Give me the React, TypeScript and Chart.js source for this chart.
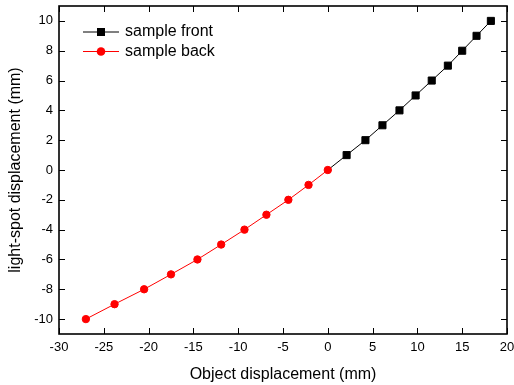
import React, { useEffect, useRef } from 'react';
import { Chart, registerables } from 'chart.js';

Chart.register(...registerables);

// ---- data ----
const seriesNames = ['sample front', 'sample back'];
const frontX = [0, 2.1, 4.2, 6.1, 8.0, 9.8, 11.6, 13.4, 15.0, 16.6, 18.2];
const frontY = [0, 1, 2, 3, 4, 5, 6, 7, 8, 9, 10];
const backX = [-27.0, -23.8, -20.5, -17.5, -14.55, -11.9, -9.3, -6.85, -4.4, -2.15, 0];
const backY = [-10, -9, -8, -7, -6, -5, -4, -3, -2, -1, 0];
const xTicks = [-30, -25, -20, -15, -10, -5, 0, 5, 10, 15, 20];
const yTicks = [-10, -8, -6, -4, -2, 0, 2, 4, 6, 8, 10];
const xTitle = 'Object displacement (mm)';
const yTitle = 'light-spot displacement (mm)';

const FONT = "'Liberation Sans', Arial, Helvetica, sans-serif";

const frameLegendPlugin = {
  id: 'frameLegend',
  afterDraw(chart: any) {
    const { ctx, chartArea, scales } = chart;
    const { left, right, top, bottom } = chartArea;
    const xs = scales.x;
    const ys = scales.y;
    ctx.save();
    ctx.strokeStyle = '#000';
    ctx.lineWidth = 1;
    ctx.beginPath();
    const tl = 6;
    for (const v of xTicks) {
      const p = Math.round(xs.getPixelForValue(v)) + 0.5;
      ctx.moveTo(p, bottom);
      ctx.lineTo(p, bottom - tl);
      ctx.moveTo(p, top);
      ctx.lineTo(p, top + tl);
    }
    for (const v of yTicks) {
      const p = Math.round(ys.getPixelForValue(v)) + 0.5;
      ctx.moveTo(left, p);
      ctx.lineTo(left + tl, p);
      ctx.moveTo(right, p);
      ctx.lineTo(right - tl, p);
    }
    ctx.stroke();
    ctx.lineWidth = 1.6;
    ctx.strokeRect(left, top, right - left, bottom - top);

    // legend inside the plot, top-left
    const ds = chart.data.datasets;
    ds.forEach((d: any, i: number) => {
      const cy = 32 + i * 19.5;
      ctx.strokeStyle = d.borderColor;
      ctx.lineWidth = 1;
      ctx.beginPath();
      ctx.moveTo(83, cy);
      ctx.lineTo(119, cy);
      ctx.stroke();
      ctx.fillStyle = d.pointBackgroundColor;
      if (d.pointStyle === 'rect') {
        ctx.fillRect(101 - 4, cy - 4, 8, 8);
      } else {
        ctx.beginPath();
        ctx.arc(101, cy, 4.3, 0, Math.PI * 2);
        ctx.fill();
      }
      ctx.fillStyle = '#000';
      ctx.font = `16px ${FONT}`;
      ctx.textBaseline = 'middle';
      ctx.textAlign = 'left';
      ctx.fillText(d.label, 125, cy);
    });
    ctx.restore();
  },
};

export default function App() {
  const ref = useRef<HTMLCanvasElement>(null);
  useEffect(() => {
    if (!ref.current) return;
    const chart = new Chart(ref.current, {
      type: 'scatter',
      data: {
        datasets: [
          {
            label: seriesNames[0],
            data: frontX.map((x, i) => ({ x, y: frontY[i] })),
            showLine: true,
            borderColor: '#000000',
            backgroundColor: '#000000',
            borderWidth: 1,
            pointStyle: 'rect',
            // the shared origin point is shown by the "sample back" marker
            pointRadius: (c: any) => (c.dataIndex === 0 ? 0 : 5),
            pointBorderWidth: 1,
            pointBackgroundColor: '#000000',
            pointBorderColor: '#000000',
            order: 1,
          } as any,
          {
            label: seriesNames[1],
            data: backX.map((x, i) => ({ x, y: backY[i] })),
            showLine: true,
            borderColor: '#ff0000',
            backgroundColor: '#ff0000',
            borderWidth: 1,
            pointStyle: 'circle',
            pointRadius: 3.7,
            pointBorderWidth: 1,
            pointBackgroundColor: '#ff0000',
            pointBorderColor: '#ff0000',
            order: 0,
          } as any,
        ],
      },
      options: {
        responsive: false,
        animation: false,
        devicePixelRatio: 1,
        layout: { padding: { left: 0, right: 7, top: 6, bottom: 0 } },
        plugins: { legend: { display: false }, tooltip: { enabled: false } },
        scales: {
          x: {
            type: 'linear',
            min: -30,
            max: 20,
            afterBuildTicks: (s: any) => {
              s.ticks = xTicks.map((value) => ({ value }));
            },
            afterFit: (s: any) => {
              s.height = 51;
              s.paddingLeft = 0;
              s.paddingRight = 0;
            },
            ticks: {
              color: '#000',
              font: { family: FONT, size: 13 },
              padding: 6,
              maxRotation: 0,
              autoSkip: false,
            },
            grid: { display: false, drawTicks: false },
            border: { display: false },
            title: {
              display: true,
              text: xTitle,
              color: '#000',
              font: { family: FONT, size: 16 },
              padding: { top: 0, bottom: 1 },
            },
          },
          y: {
            type: 'linear',
            min: -11,
            max: 11,
            afterBuildTicks: (s: any) => {
              s.ticks = yTicks.map((value) => ({ value }));
            },
            afterFit: (s: any) => {
              s.width = 59;
              s.paddingTop = 0;
              s.paddingBottom = 0;
            },
            ticks: {
              color: '#000',
              font: { family: FONT, size: 13 },
              padding: 6,
              autoSkip: false,
            },
            grid: { display: false, drawTicks: false },
            border: { display: false },
            title: {
              display: true,
              text: yTitle,
              color: '#000',
              font: { family: FONT, size: 16 },
              padding: { top: 6, bottom: 0 },
            },
          },
        },
      },
      plugins: [frameLegendPlugin],
    });
    return () => chart.destroy();
  }, []);
  return (
    <div style={{ position: 'fixed', left: 0, top: 0, width: 514, height: 385, background: '#fff' }}>
      <canvas ref={ref} width={514} height={385} style={{ display: 'block' }} />
    </div>
  );
}
